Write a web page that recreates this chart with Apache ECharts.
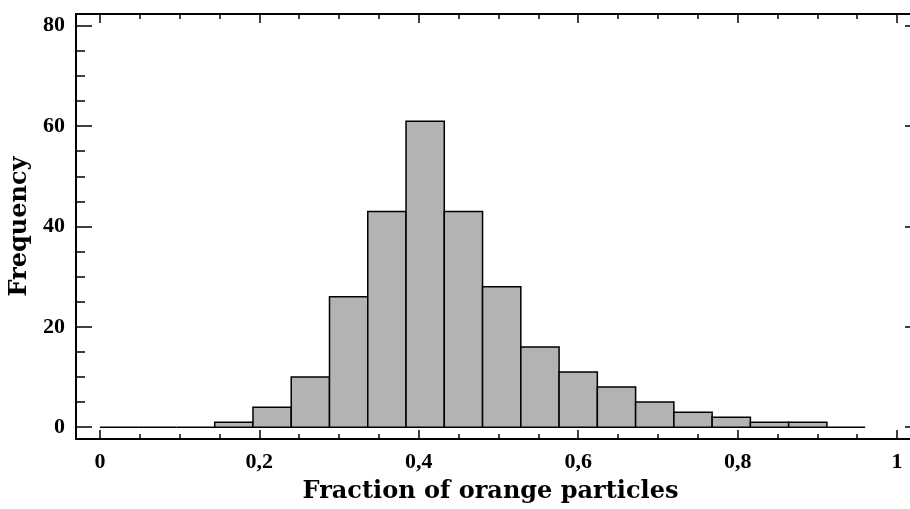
<!DOCTYPE html>
<html>
<head>
<meta charset="utf-8">
<script src="https://cdn.jsdelivr.net/npm/echarts@6/dist/echarts.min.js"></script>
<style>
html,body{margin:0;padding:0;background:#fff;overflow:hidden;}
#chart{width:910px;height:509px;}
</style>
</head>
<body>
<div id="chart"></div>
<script>
// Histogram bin edges (fraction of orange particles)
const binEdges = [0, 0.048, 0.096, 0.144, 0.192, 0.24, 0.288, 0.336, 0.384, 0.432, 0.48,
                  0.528, 0.576, 0.624, 0.672, 0.72, 0.768, 0.816, 0.864, 0.912, 0.96];
// Frequency in each bin
const counts = [0, 0, 0, 1, 4, 10, 26, 43, 61, 43, 28, 16, 11, 8, 5, 3, 2, 1, 1, 0];
// Tick values
const xMajorTicks = [0, 0.2, 0.4, 0.6, 0.8, 1];
const xMinorTicks = [0.05, 0.1, 0.15, 0.25, 0.3, 0.35, 0.45, 0.5, 0.55, 0.65, 0.7, 0.75, 0.85, 0.9, 0.95];
const yMajorTicks = [0, 20, 40, 60, 80];
const yMinorTicks = [5, 10, 15, 25, 30, 35, 45, 50, 55, 65, 70, 75];
const xTitle = 'Fraction of orange particles';
const yTitle = 'Frequency';

const data = counts.map((c, i) => [binEdges[i], binEdges[i + 1], c]);

const labelFont = {fontFamily: 'Liberation Serif', fontWeight: 'bold', fontSize: 22, color: '#000'};
const titleFont = {fontFamily: 'DejaVu Serif', fontWeight: 'bold', fontSize: 24, color: '#000'};
const tickStyle = {color: '#000', width: 1.5};
function frameLine() { return {show: true, onZero: false, lineStyle: {color: '#000', width: 2}}; }

function xAxisDef(pos, ticks, len, withLabel, line) {
  return {
    type: 'value', position: pos, min: -0.03, max: 1.03,
    axisLine: line ? frameLine() : {show: false, onZero: false}, splitLine: {show: false},
    axisTick: {show: true, inside: true, length: len, lineStyle: tickStyle, customValues: ticks},
    axisLabel: withLabel ? Object.assign({show: true, margin: 12, customValues: ticks,
      formatter: v => String(v).replace('.', ',')}, labelFont) : {show: false}
  };
}
function yAxisDef(pos, ticks, len, withLabel, line) {
  return {
    type: 'value', position: pos, min: -2.35, max: 82.35,
    axisLine: line ? frameLine() : {show: false, onZero: false}, splitLine: {show: false},
    axisTick: {show: true, inside: true, length: len, lineStyle: tickStyle, customValues: ticks},
    axisLabel: withLabel ? Object.assign({show: true, margin: 11, customValues: ticks}, labelFont) : {show: false}
  };
}

const xAxes = [
  xAxisDef('bottom', xMajorTicks, 9, true, true),
  xAxisDef('bottom', xMinorTicks, 5, false, false),
  xAxisDef('top', xMajorTicks, 9, false, true),
  xAxisDef('top', xMinorTicks, 5, false, false)
];
xAxes[0].name = xTitle;
xAxes[0].nameLocation = 'middle';
xAxes[0].nameGap = 41;
xAxes[0].nameTextStyle = Object.assign({padding: [0, 16, 0, 0]}, titleFont);

const yAxes = [
  yAxisDef('left', yMajorTicks, 16, true, true),
  yAxisDef('left', yMinorTicks, 9, false, false),
  yAxisDef('right', yMajorTicks, 16, false, false)
];
yAxes[0].name = yTitle;
yAxes[0].nameLocation = 'middle';
yAxes[0].nameGap = 43;
yAxes[0].nameTextStyle = titleFont;

const chart = echarts.init(document.getElementById('chart'), null, {renderer: 'canvas', width: 910, height: 509});
chart.setOption({
  animation: false,
  backgroundColor: '#fff',
  grid: {left: 76, top: 14, width: 845, height: 425, show: false, borderWidth: 0,
         containLabel: false, outerBoundsMode: 'none'},
  xAxis: xAxes,
  yAxis: yAxes,
  series: [{
    type: 'custom',
    xAxisIndex: 0, yAxisIndex: 0,
    data: data,
    encode: {x: [0, 1], y: 2},
    renderItem: function (params, api) {
      const p0 = api.coord([api.value(0), api.value(2)]);
      const p1 = api.coord([api.value(1), 0]);
      return {
        type: 'rect',
        shape: {x: p0[0], y: p0[1], width: p1[0] - p0[0], height: p1[1] - p0[1]},
        style: {fill: '#b3b3b3', stroke: '#000', lineWidth: 1.5}
      };
    }
  }]
});
</script>
</body>
</html>
